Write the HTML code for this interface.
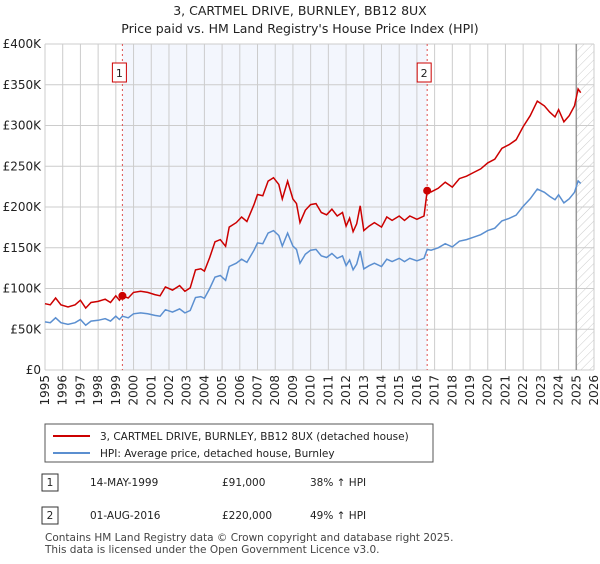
<!DOCTYPE html>
<html><head><meta charset="utf-8"><style>
body{margin:0;background:#fff;font-family:"DejaVu Sans","Liberation Sans",sans-serif;}
svg text{font-family:"DejaVu Sans","Liberation Sans",sans-serif;}
</style></head><body>
<svg id="c" width="600" height="560" xmlns="http://www.w3.org/2000/svg">
<text x="300" y="15" text-anchor="middle" font-size="12.5" fill="#222">3, CARTMEL DRIVE, BURNLEY, BB12 8UX</text>
<text x="300" y="33" text-anchor="middle" font-size="12.5" fill="#222">Price paid vs. HM Land Registry's House Price Index (HPI)</text>
<g id="plot"></g>
<g>
<rect x="45" y="424" width="388" height="38" fill="#fff" stroke="#555"/>
<line x1="53" y1="436" x2="90" y2="436" stroke="#cc0000" stroke-width="2"/>
<text x="100" y="440" font-size="10.5" fill="#222">3, CARTMEL DRIVE, BURNLEY, BB12 8UX (detached house)</text>
<line x1="53" y1="453" x2="90" y2="453" stroke="#5b8fd0" stroke-width="2"/>
<text x="100" y="457" font-size="10.5" fill="#222">HPI: Average price, detached house, Burnley</text>
</g>
<g font-size="10.5" fill="#222">
<rect x="42" y="474" width="16" height="17" fill="#fff" stroke="#333"/><text x="50" y="486" text-anchor="middle">1</text>
<text x="90" y="486">14-MAY-1999</text><text x="222" y="486">£91,000</text><text x="310" y="486">38% ↑ HPI</text>
<rect x="42" y="507" width="16" height="17" fill="#fff" stroke="#333"/><text x="50" y="519" text-anchor="middle">2</text>
<text x="90" y="519">01-AUG-2016</text><text x="222" y="519">£220,000</text><text x="310" y="519">49% ↑ HPI</text>
</g>
<text x="45" y="541" font-size="10.5" fill="#444">Contains HM Land Registry data © Crown copyright and database right 2025.</text>
<text x="45" y="553" font-size="10.5" fill="#444">This data is licensed under the Open Government Licence v3.0.</text>
</svg>
<script>
const dates=[1995.0,1995.3,1995.6,1995.9,1996.3,1996.7,1997.0,1997.3,1997.6,1998.0,1998.4,1998.7,1999.0,1999.2,1999.37,1999.7,2000.0,2000.4,2000.8,2001.2,2001.5,2001.8,2002.2,2002.6,2002.9,2003.2,2003.5,2003.8,2004.0,2004.3,2004.6,2004.9,2005.2,2005.4,2005.8,2006.1,2006.4,2006.8,2007.0,2007.3,2007.6,2007.9,2008.2,2008.4,2008.7,2009.0,2009.2,2009.4,2009.7,2010.0,2010.3,2010.6,2010.9,2011.2,2011.5,2011.8,2012.0,2012.2,2012.4,2012.6,2012.8,2013.0,2013.3,2013.6,2014.0,2014.3,2014.6,2015.0,2015.3,2015.6,2016.0,2016.4,2016.58,2016.8,2017.2,2017.6,2018.0,2018.4,2018.8,2019.2,2019.6,2020.0,2020.4,2020.8,2021.2,2021.6,2022.0,2022.4,2022.8,2023.2,2023.5,2023.8,2024.0,2024.3,2024.6,2024.9,2025.1,2025.25];
const hpi=[59,58,64,58,56,58,62,55,60,61,63,60,66,62,66,64,69,70,69,67,66,74,71,75,70,73,89,90,88,100,114,116,110,127,131,136,132,147,156,155,168,171,165,152,168,152,148,131,142,147,148,140,138,143,137,140,128,135,123,130,146,124,128,131,127,136,133,137,133,137,134,137,148,147,150,155,151,158,160,163,166,171,174,183,186,190,201,210,222,218,213,209,215,205,210,218,232,229];
const prop=[81.4,80,88.3,80,77.3,80,85.6,75.9,82.8,84.2,86.9,82.8,91,85.6,91,88.3,95.2,96.6,95.2,92.5,91,102,98,103.5,96.6,100.7,122.8,124.2,121.4,138,157.3,160,151.8,175.3,180.8,187.7,182.2,202.9,215.3,213.9,231.8,236,227.7,209.8,231.8,209.8,204.2,180.8,196,202.9,204.2,193.2,190.4,197.3,189,193.2,176.6,186.3,169.7,179.4,201.5,171.1,176.6,180.8,175.3,187.7,183.5,189,183.5,189,184.9,189,220,218.5,223,230.4,224.4,234.8,237.8,242.3,246.7,254.1,258.6,272,276.4,282.4,298.7,312,329.9,324,316.5,310.6,319.5,304.6,312,324,344.8,340.3];
const saleDates=[1999.37,2016.58];
const salePrices=[91,220];
const saleLabels=["1","2"];
const yTicks=[0,50,100,150,200,250,300,350,400];
const yTickLabels=["£0","£50K","£100K","£150K","£200K","£250K","£300K","£350K","£400K"];
const xYears=[1995,1996,1997,1998,1999,2000,2001,2002,2003,2004,2005,2006,2007,2008,2009,2010,2011,2012,2013,2014,2015,2016,2017,2018,2019,2020,2021,2022,2023,2024,2025,2026];
const dataEnd=2025.0;

const L=45,R=594,T=44,B=370;
const x=d=>L+(d-1995)/(2026-1995)*(R-L);
const y=v=>B-v/400*(B-T);
const NS="http://www.w3.org/2000/svg";
const g=document.getElementById('plot');
function mk(t,a){const e=document.createElementNS(NS,t);for(const k in a)e.setAttribute(k,a[k]);g.appendChild(e);return e;}
const defs=mk('defs',{});
defs.innerHTML='<pattern id="hatch" width="6" height="6" patternUnits="userSpaceOnUse" patternTransform="rotate(45)"><line x1="0" y1="0" x2="0" y2="6" stroke="#ccc" stroke-width="1"/></pattern>';
let e;
e=mk('rect',{x:x(saleDates[0]),y:T,width:x(saleDates[1])-x(saleDates[0]),height:B-T,fill:'#f3f6fd'});


e=mk('rect',{x:x(dataEnd),y:T,width:R-x(dataEnd),height:B-T,fill:'url(#hatch)'});


yTicks.forEach((v,i)=>{
 e=mk('line',{x1:L,x2:R,y1:y(v),y2:y(v),stroke:'#ccc','stroke-width':1});
 
 
 e=mk('text',{x:L-4,y:y(v)+4,'text-anchor':'end','font-size':12,fill:'#222'});
 e.textContent=yTickLabels[i];
 
 
});
xYears.forEach(yr=>{
 e=mk('line',{x1:x(yr),x2:x(yr),y1:T,y2:B,stroke:'#ccc','stroke-width':1});
 
 
 const tx=x(yr)+4,ty=B+5;
 e=mk('text',{x:tx,y:ty,'text-anchor':'end','font-size':12,fill:'#222',transform:`rotate(-90 ${tx} ${ty})`});
 e.textContent=yr;
 
 
});
e=mk('line',{x1:x(dataEnd),x2:x(dataEnd),y1:T,y2:B,stroke:'#999','stroke-width':1.5});


saleDates.forEach((d,i)=>{
 e=mk('line',{x1:x(d),x2:x(d),y1:T,y2:B,stroke:'#e05050','stroke-width':1,'stroke-dasharray':'2,3'});
 
 
 e=mk('rect',{x:x(d)-10,y:63,width:14,height:19,fill:'#fff',stroke:'#cc0000'});
 
 
 e=mk('text',{x:x(d)-3,y:77,'text-anchor':'middle','font-size':11,fill:'#222'});
 e.textContent=saleLabels[i];
 
 
});
const pts=a=>a.map((v,i)=>x(dates[i]).toFixed(1)+','+y(v).toFixed(1)).join(' ');
e=mk('polyline',{points:pts(hpi),fill:'none',stroke:'#5b8fd0','stroke-width':1.5});


e=mk('polyline',{points:pts(prop),fill:'none',stroke:'#cc0000','stroke-width':1.5});


saleDates.forEach((d,i)=>{
 e=mk('circle',{cx:x(d),cy:y(salePrices[i]),r:4,fill:'#cc0000'});
 
 
});
</script>
</body></html>
